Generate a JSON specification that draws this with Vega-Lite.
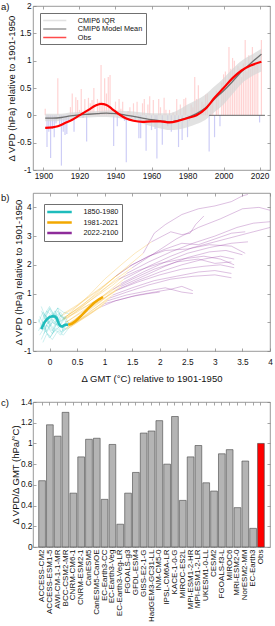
{
"$schema": "https://vega.github.io/schema/vega-lite/v6.json",
"padding": {"left": 0, "top": 0, "right": 4, "bottom": 0},
"spacing": 12,
"resolve": {"scale": {"color": "independent"}},
"config": {
  "font": "Liberation Sans",
  "view": {"stroke": "#808080", "strokeWidth": 0.8},
  "axis": {"grid": false, "domain": false, "tickColor": "#808080", "tickSize": -3, "tickWidth": 0.7, "labelFont": "Liberation Sans", "labelFontSize": 8.3, "labelColor": "#111111", "titleFont": "Liberation Sans", "titleFontSize": 9.5, "titleFontWeight": "normal", "titleColor": "#111111", "labelPadding": 5, "titlePadding": 0, "labelFlush": false, "labelOverlap": false},
  "legend": {"labelFont": "Liberation Sans", "labelFontSize": 7.3, "labelColor": "#111111", "strokeColor": "#707070", "fillColor": "white", "padding": 3, "rowPadding": 0.5, "symbolSize": 49, "labelOffset": 18.5, "symbolOffset": 7.25, "symbolStrokeWidth": 1.5},
  "title": {"fontSize": 9.5, "fontWeight": "normal", "font": "Liberation Sans", "color": "#111111"}
},
"datasets": {
  "annual": [
    {"year":1901,"v":0.12},{"year":1902,"v":-0.58},{"year":1903,"v":-0.30},{"year":1904,"v":-0.78},{"year":1905,"v":-0.25},{"year":1906,"v":-0.40},{"year":1907,"v":-0.15},{"year":1908,"v":0.68},{"year":1909,"v":-0.20},{"year":1910,"v":-0.92},
    {"year":1911,"v":-0.30},{"year":1912,"v":-0.36},{"year":1913,"v":-0.34},{"year":1914,"v":-0.10},{"year":1915,"v":0.15},{"year":1916,"v":0.40},{"year":1917,"v":-0.30},{"year":1918,"v":0.33},{"year":1919,"v":0.28},{"year":1920,"v":0.10},
    {"year":1921,"v":0.48},{"year":1922,"v":-0.05},{"year":1923,"v":0.30},{"year":1924,"v":-0.48},{"year":1925,"v":0.32},{"year":1926,"v":0.22},{"year":1927,"v":0.28},{"year":1928,"v":0.50},{"year":1929,"v":0.05},{"year":1930,"v":0.30},
    {"year":1931,"v":0.25},{"year":1932,"v":0.92},{"year":1933,"v":0.20},{"year":1934,"v":0.68},{"year":1935,"v":0.40},{"year":1936,"v":0.70},{"year":1937,"v":0.74},{"year":1938,"v":0.10},{"year":1939,"v":-0.56},{"year":1940,"v":0.25},
    {"year":1941,"v":-0.20},{"year":1942,"v":0.30},{"year":1943,"v":0.12},{"year":1944,"v":0.25},{"year":1945,"v":-0.10},{"year":1946,"v":-0.86},{"year":1947,"v":0.08},{"year":1948,"v":0.15},{"year":1949,"v":-0.05},{"year":1950,"v":0.22},
    {"year":1951,"v":-0.10},{"year":1952,"v":0.25},{"year":1953,"v":-0.42},{"year":1954,"v":-0.42},{"year":1955,"v":0.22},{"year":1956,"v":0.30},{"year":1957,"v":-0.65},{"year":1958,"v":0.20},{"year":1959,"v":0.35},{"year":1960,"v":-0.27},
    {"year":1961,"v":0.28},{"year":1962,"v":-0.25},{"year":1963,"v":-0.79},{"year":1964,"v":0.30},{"year":1965,"v":0.15},{"year":1966,"v":-0.54},{"year":1967,"v":0.32},{"year":1968,"v":0.10},{"year":1969,"v":-0.20},{"year":1970,"v":0.10},
    {"year":1971,"v":-0.30},{"year":1972,"v":0.05},{"year":1973,"v":-0.15},{"year":1974,"v":0.30},{"year":1975,"v":-0.58},{"year":1976,"v":0.20},{"year":1977,"v":-0.45},{"year":1978,"v":0.30},{"year":1979,"v":0.32},{"year":1980,"v":-0.40},
    {"year":1981,"v":-0.10},{"year":1982,"v":0.20},{"year":1983,"v":0.15},{"year":1984,"v":0.70},{"year":1985,"v":0.30},{"year":1986,"v":0.55},{"year":1987,"v":0.10},{"year":1988,"v":0.25},{"year":1989,"v":0.20},{"year":1990,"v":0.38},
    {"year":1991,"v":0.40},{"year":1992,"v":-0.66},{"year":1993,"v":0.25},{"year":1994,"v":0.30},{"year":1995,"v":-0.40},{"year":1996,"v":0.45},{"year":1997,"v":0.35},{"year":1998,"v":-0.20},{"year":1999,"v":0.60},{"year":2000,"v":0.75},
    {"year":2001,"v":0.80},{"year":2002,"v":0.55},{"year":2003,"v":1.25},{"year":2004,"v":0.85},{"year":2005,"v":1.05},{"year":2006,"v":1.00},{"year":2007,"v":0.70},{"year":2008,"v":0.90},{"year":2009,"v":0.85},{"year":2010,"v":0.70},
    {"year":2011,"v":0.95},{"year":2012,"v":1.38},{"year":2013,"v":0.80},{"year":2014,"v":1.10},{"year":2015,"v":0.85},{"year":2016,"v":1.25},{"year":2017,"v":0.95},{"year":2018,"v":0.97},{"year":2019,"v":1.00},{"year":2020,"v":-0.13},
    {"year":2021,"v":1.38}
  ],
  "cmip": [
    {"year":1901,"mean":-0.05,"lo":-0.11,"hi":0.03},{"year":1905,"mean":-0.05,"lo":-0.11,"hi":0.03},{"year":1910,"mean":-0.04,"lo":-0.10,"hi":0.03},{"year":1915,"mean":-0.01,"lo":-0.07,"hi":0.05},{"year":1920,"mean":0.01,"lo":-0.05,"hi":0.06},
    {"year":1925,"mean":0.02,"lo":-0.04,"hi":0.07},{"year":1930,"mean":0.03,"lo":-0.03,"hi":0.08},{"year":1935,"mean":0.04,"lo":-0.03,"hi":0.09},{"year":1940,"mean":0.03,"lo":-0.04,"hi":0.09},{"year":1945,"mean":0.01,"lo":-0.07,"hi":0.08},
    {"year":1950,"mean":-0.02,"lo":-0.10,"hi":0.07},{"year":1955,"mean":-0.05,"lo":-0.15,"hi":0.05},{"year":1960,"mean":-0.08,"lo":-0.20,"hi":0.04},{"year":1965,"mean":-0.10,"lo":-0.24,"hi":0.04},{"year":1970,"mean":-0.12,"lo":-0.27,"hi":0.04},
    {"year":1975,"mean":-0.09,"lo":-0.26,"hi":0.10},{"year":1980,"mean":-0.04,"lo":-0.22,"hi":0.20},{"year":1985,"mean":0.03,"lo":-0.16,"hi":0.28},{"year":1990,"mean":0.14,"lo":-0.08,"hi":0.38},{"year":1995,"mean":0.30,"lo":0.06,"hi":0.53},
    {"year":2000,"mean":0.45,"lo":0.20,"hi":0.68},{"year":2005,"mean":0.62,"lo":0.39,"hi":0.85},{"year":2010,"mean":0.80,"lo":0.58,"hi":1.00},{"year":2015,"mean":0.95,"lo":0.70,"hi":1.10},{"year":2021,"mean":1.12,"lo":0.80,"hi":1.22}
  ],
  "obs": [
    {"year":1901,"v":-0.23},{"year":1905,"v":-0.22},{"year":1908,"v":-0.20},{"year":1912,"v":-0.14},{"year":1916,"v":-0.08},{"year":1920,"v":0.00},{"year":1925,"v":0.10},{"year":1929,"v":0.18},{"year":1932,"v":0.21},{"year":1935,"v":0.19},
    {"year":1938,"v":0.12},{"year":1942,"v":0.02},{"year":1946,"v":-0.06},{"year":1950,"v":-0.10},{"year":1955,"v":-0.12},{"year":1960,"v":-0.11},{"year":1965,"v":-0.11},{"year":1970,"v":-0.13},{"year":1975,"v":-0.10},{"year":1980,"v":-0.05},
    {"year":1985,"v":0.00},{"year":1990,"v":0.12},{"year":1995,"v":0.32},{"year":2000,"v":0.50},{"year":2005,"v":0.68},{"year":2010,"v":0.82},{"year":2015,"v":0.91},{"year":2021,"v":0.98}
  ],
  "seg": [{"year":1992,"year2":2023,"v":0}],
  "spag": [
    {"m":1,"p":"1850-1980","x":-0.1,"y":0.1},{"m":1,"p":"1850-1980","x":-0.05,"y":0.4},{"m":1,"p":"1850-1980","x":0.05,"y":0.2},{"m":1,"p":"1850-1980","x":0.15,"y":0.5},{"m":1,"p":"1850-1980","x":0.25,"y":0.35},{"m":1,"p":"1850-1980","x":0.35,"y":0.3},
    {"m":2,"p":"1850-1980","x":-0.15,"y":-0.2},{"m":2,"p":"1850-1980","x":-0.1,"y":0.3},{"m":2,"p":"1850-1980","x":0.0,"y":0.0},{"m":2,"p":"1850-1980","x":0.1,"y":0.3},{"m":2,"p":"1850-1980","x":0.2,"y":0.05},{"m":2,"p":"1850-1980","x":0.3,"y":0.2},
    {"m":3,"p":"1850-1980","x":-0.12,"y":0.0},{"m":3,"p":"1850-1980","x":-0.05,"y":-0.3},{"m":3,"p":"1850-1980","x":0.05,"y":0.1},{"m":3,"p":"1850-1980","x":0.15,"y":-0.1},{"m":3,"p":"1850-1980","x":0.22,"y":0.2},{"m":3,"p":"1850-1980","x":0.3,"y":0.1},
    {"m":4,"p":"1850-1980","x":-0.18,"y":0.2},{"m":4,"p":"1850-1980","x":-0.1,"y":-0.1},{"m":4,"p":"1850-1980","x":0.0,"y":0.25},{"m":4,"p":"1850-1980","x":0.08,"y":-0.05},{"m":4,"p":"1850-1980","x":0.18,"y":0.3},{"m":4,"p":"1850-1980","x":0.25,"y":0.15},
    {"m":5,"p":"1850-1980","x":-0.1,"y":-0.4},{"m":5,"p":"1850-1980","x":-0.05,"y":-0.1},{"m":5,"p":"1850-1980","x":0.05,"y":-0.3},{"m":5,"p":"1850-1980","x":0.12,"y":0.05},{"m":5,"p":"1850-1980","x":0.2,"y":-0.2},{"m":5,"p":"1850-1980","x":0.3,"y":0.0},
    {"m":6,"p":"1850-1980","x":-0.2,"y":0.0},{"m":6,"p":"1850-1980","x":-0.12,"y":0.35},{"m":6,"p":"1850-1980","x":-0.02,"y":0.1},{"m":6,"p":"1850-1980","x":0.1,"y":0.4},{"m":6,"p":"1850-1980","x":0.18,"y":0.0},{"m":6,"p":"1850-1980","x":0.25,"y":0.1},
    {"m":7,"p":"1850-1980","x":-0.15,"y":-0.6},{"m":7,"p":"1850-1980","x":-0.08,"y":-0.3},{"m":7,"p":"1850-1980","x":0.02,"y":-0.5},{"m":7,"p":"1850-1980","x":0.12,"y":-0.2},{"m":7,"p":"1850-1980","x":0.22,"y":-0.35},{"m":7,"p":"1850-1980","x":0.3,"y":-0.1},
    {"m":8,"p":"1850-1980","x":-0.05,"y":0.2},{"m":8,"p":"1850-1980","x":0.0,"y":-0.15},{"m":8,"p":"1850-1980","x":0.1,"y":0.15},{"m":8,"p":"1850-1980","x":0.18,"y":-0.1},{"m":8,"p":"1850-1980","x":0.28,"y":0.2},{"m":8,"p":"1850-1980","x":0.35,"y":-0.05},
    {"m":9,"p":"1850-1980","x":-0.15,"y":0.4},{"m":9,"p":"1850-1980","x":-0.08,"y":0.1},{"m":9,"p":"1850-1980","x":0.0,"y":0.5},{"m":9,"p":"1850-1980","x":0.1,"y":0.2},{"m":9,"p":"1850-1980","x":0.2,"y":0.35},{"m":9,"p":"1850-1980","x":0.3,"y":0.0},
    {"m":10,"p":"1850-1980","x":-0.1,"y":-0.3},{"m":10,"p":"1850-1980","x":-0.02,"y":0.05},{"m":10,"p":"1850-1980","x":0.08,"y":-0.25},{"m":10,"p":"1850-1980","x":0.16,"y":0.1},{"m":10,"p":"1850-1980","x":0.25,"y":-0.3},{"m":10,"p":"1850-1980","x":0.35,"y":-0.15},
    {"m":11,"p":"1850-1980","x":-0.18,"y":-0.45},{"m":11,"p":"1850-1980","x":-0.1,"y":-0.2},{"m":11,"p":"1850-1980","x":0.0,"y":-0.55},{"m":11,"p":"1850-1980","x":0.1,"y":-0.25},{"m":11,"p":"1850-1980","x":0.2,"y":-0.45},{"m":11,"p":"1850-1980","x":0.3,"y":-0.2},
    {"m":12,"p":"1850-1980","x":-0.05,"y":-0.1},{"m":12,"p":"1850-1980","x":0.05,"y":-0.4},{"m":12,"p":"1850-1980","x":0.12,"y":-0.05},{"m":12,"p":"1850-1980","x":0.22,"y":-0.35},{"m":12,"p":"1850-1980","x":0.3,"y":0.05},{"m":12,"p":"1850-1980","x":0.4,"y":-0.1},
    {"m":13,"p":"1850-1980","x":-0.12,"y":-0.7},{"m":13,"p":"1850-1980","x":-0.05,"y":-0.4},{"m":13,"p":"1850-1980","x":0.05,"y":-0.6},{"m":13,"p":"1850-1980","x":0.15,"y":-0.3},{"m":13,"p":"1850-1980","x":0.25,"y":-0.45},{"m":13,"p":"1850-1980","x":0.35,"y":-0.2},
    {"m":14,"p":"1850-1980","x":-0.2,"y":0.1},{"m":14,"p":"1850-1980","x":-0.12,"y":-0.25},{"m":14,"p":"1850-1980","x":-0.02,"y":0.0},{"m":14,"p":"1850-1980","x":0.08,"y":-0.35},{"m":14,"p":"1850-1980","x":0.2,"y":-0.1},{"m":14,"p":"1850-1980","x":0.3,"y":-0.25},
    {"m":15,"p":"1850-1980","x":-0.15,"y":0.55},{"m":15,"p":"1850-1980","x":-0.08,"y":0.2},{"m":15,"p":"1850-1980","x":0.0,"y":0.45},{"m":15,"p":"1850-1980","x":0.08,"y":0.15},{"m":15,"p":"1850-1980","x":0.15,"y":0.4},{"m":15,"p":"1850-1980","x":0.2,"y":0.2},
    {"m":16,"p":"1850-1980","x":-0.08,"y":0.3},{"m":16,"p":"1850-1980","x":0.0,"y":0.55},{"m":16,"p":"1850-1980","x":0.08,"y":0.25},{"m":16,"p":"1850-1980","x":0.15,"y":0.5},{"m":16,"p":"1850-1980","x":0.2,"y":0.2},{"m":16,"p":"1850-1980","x":0.25,"y":0.3},
    {"m":17,"p":"1850-1980","x":-0.2,"y":-0.3},{"m":17,"p":"1850-1980","x":-0.12,"y":0.0},{"m":17,"p":"1850-1980","x":-0.05,"y":-0.35},{"m":17,"p":"1850-1980","x":0.05,"y":0.0},{"m":17,"p":"1850-1980","x":0.18,"y":-0.15},{"m":17,"p":"1850-1980","x":0.3,"y":0.2},
    {"m":18,"p":"1850-1980","x":-0.1,"y":0.25},{"m":18,"p":"1850-1980","x":-0.02,"y":-0.05},{"m":18,"p":"1850-1980","x":0.06,"y":0.3},{"m":18,"p":"1850-1980","x":0.14,"y":0.0},{"m":18,"p":"1850-1980","x":0.2,"y":0.25},{"m":18,"p":"1850-1980","x":0.25,"y":0.1},

    {"m":1,"p":"1981-2021","x":0.35,"y":0.3},{"m":1,"p":"1981-2021","x":0.7,"y":0.9},{"m":1,"p":"1981-2021","x":1.0,"y":1.5},{"m":1,"p":"1981-2021","x":1.3,"y":2.0},{"m":1,"p":"1981-2021","x":1.55,"y":2.4},{"m":1,"p":"1981-2021","x":1.85,"y":2.8},
    {"m":2,"p":"1981-2021","x":0.3,"y":0.2},{"m":2,"p":"1981-2021","x":0.6,"y":0.6},{"m":2,"p":"1981-2021","x":0.9,"y":1.1},{"m":2,"p":"1981-2021","x":1.2,"y":1.6},{"m":2,"p":"1981-2021","x":1.45,"y":2.0},{"m":2,"p":"1981-2021","x":1.7,"y":2.4},
    {"m":3,"p":"1981-2021","x":0.3,"y":0.1},{"m":3,"p":"1981-2021","x":0.6,"y":0.55},{"m":3,"p":"1981-2021","x":0.9,"y":1.0},{"m":3,"p":"1981-2021","x":1.2,"y":1.5},{"m":3,"p":"1981-2021","x":1.5,"y":1.9},
    {"m":4,"p":"1981-2021","x":0.25,"y":0.15},{"m":4,"p":"1981-2021","x":0.55,"y":0.5},{"m":4,"p":"1981-2021","x":0.85,"y":0.9},{"m":4,"p":"1981-2021","x":1.15,"y":1.3},{"m":4,"p":"1981-2021","x":1.4,"y":1.7},
    {"m":5,"p":"1981-2021","x":0.3,"y":0.0},{"m":5,"p":"1981-2021","x":0.6,"y":0.4},{"m":5,"p":"1981-2021","x":0.9,"y":0.8},{"m":5,"p":"1981-2021","x":1.15,"y":1.2},{"m":5,"p":"1981-2021","x":1.35,"y":1.5},
    {"m":6,"p":"1981-2021","x":0.25,"y":0.1},{"m":6,"p":"1981-2021","x":0.55,"y":0.45},{"m":6,"p":"1981-2021","x":0.85,"y":0.75},{"m":6,"p":"1981-2021","x":1.1,"y":1.05},{"m":6,"p":"1981-2021","x":1.3,"y":1.35},
    {"m":7,"p":"1981-2021","x":0.3,"y":-0.1},{"m":7,"p":"1981-2021","x":0.6,"y":0.3},{"m":7,"p":"1981-2021","x":0.9,"y":0.7},{"m":7,"p":"1981-2021","x":1.1,"y":1.0},{"m":7,"p":"1981-2021","x":1.3,"y":1.25},
    {"m":8,"p":"1981-2021","x":0.35,"y":-0.05},{"m":8,"p":"1981-2021","x":0.6,"y":0.25},{"m":8,"p":"1981-2021","x":0.85,"y":0.6},{"m":8,"p":"1981-2021","x":1.05,"y":0.9},{"m":8,"p":"1981-2021","x":1.25,"y":1.15},
    {"m":9,"p":"1981-2021","x":0.3,"y":0.0},{"m":9,"p":"1981-2021","x":0.55,"y":0.3},{"m":9,"p":"1981-2021","x":0.8,"y":0.6},{"m":9,"p":"1981-2021","x":1.0,"y":0.85},{"m":9,"p":"1981-2021","x":1.2,"y":1.1},
    {"m":10,"p":"1981-2021","x":0.35,"y":-0.15},{"m":10,"p":"1981-2021","x":0.6,"y":0.15},{"m":10,"p":"1981-2021","x":0.8,"y":0.45},{"m":10,"p":"1981-2021","x":1.0,"y":0.75},{"m":10,"p":"1981-2021","x":1.15,"y":0.95},
    {"m":11,"p":"1981-2021","x":0.3,"y":-0.2},{"m":11,"p":"1981-2021","x":0.55,"y":0.1},{"m":11,"p":"1981-2021","x":0.75,"y":0.4},{"m":11,"p":"1981-2021","x":0.95,"y":0.65},{"m":11,"p":"1981-2021","x":1.1,"y":0.85},
    {"m":12,"p":"1981-2021","x":0.4,"y":-0.1},{"m":12,"p":"1981-2021","x":0.6,"y":0.15},{"m":12,"p":"1981-2021","x":0.8,"y":0.4},{"m":12,"p":"1981-2021","x":0.95,"y":0.6},{"m":12,"p":"1981-2021","x":1.05,"y":0.75},
    {"m":13,"p":"1981-2021","x":0.35,"y":-0.2},{"m":13,"p":"1981-2021","x":0.55,"y":0.05},{"m":13,"p":"1981-2021","x":0.75,"y":0.3},{"m":13,"p":"1981-2021","x":0.9,"y":0.5},{"m":13,"p":"1981-2021","x":1.0,"y":0.65},
    {"m":14,"p":"1981-2021","x":0.3,"y":-0.25},{"m":14,"p":"1981-2021","x":0.5,"y":0.0},{"m":14,"p":"1981-2021","x":0.7,"y":0.25},{"m":14,"p":"1981-2021","x":0.85,"y":0.45},{"m":14,"p":"1981-2021","x":0.95,"y":0.55},
    {"m":15,"p":"1981-2021","x":0.2,"y":0.2},{"m":15,"p":"1981-2021","x":0.45,"y":0.5},{"m":15,"p":"1981-2021","x":0.7,"y":0.85},{"m":15,"p":"1981-2021","x":0.95,"y":1.2},{"m":15,"p":"1981-2021","x":1.2,"y":1.6},{"m":15,"p":"1981-2021","x":1.45,"y":1.95},
    {"m":16,"p":"1981-2021","x":0.25,"y":0.3},{"m":16,"p":"1981-2021","x":0.5,"y":0.6},{"m":16,"p":"1981-2021","x":0.75,"y":0.95},{"m":16,"p":"1981-2021","x":1.0,"y":1.3},{"m":16,"p":"1981-2021","x":1.2,"y":1.6},
    {"m":17,"p":"1981-2021","x":0.3,"y":0.2},{"m":17,"p":"1981-2021","x":0.55,"y":0.55},{"m":17,"p":"1981-2021","x":0.8,"y":0.9},{"m":17,"p":"1981-2021","x":1.05,"y":1.25},{"m":17,"p":"1981-2021","x":1.25,"y":1.5},
    {"m":18,"p":"1981-2021","x":0.25,"y":0.1},{"m":18,"p":"1981-2021","x":0.5,"y":0.35},{"m":18,"p":"1981-2021","x":0.75,"y":0.65},{"m":18,"p":"1981-2021","x":0.95,"y":0.9},{"m":18,"p":"1981-2021","x":1.15,"y":1.15},

    {"m":1,"p":"2022-2100","x":1.85,"y":2.8},{"m":1,"p":"2022-2100","x":2.05,"y":3.0},{"m":1,"p":"2022-2100","x":2.2,"y":3.15},{"m":1,"p":"2022-2100","x":2.4,"y":3.05},{"m":1,"p":"2022-2100","x":2.55,"y":3.1},{"m":1,"p":"2022-2100","x":2.65,"y":3.4},{"m":1,"p":"2022-2100","x":2.8,"y":3.7},
    {"m":2,"p":"2022-2100","x":1.7,"y":2.4},{"m":2,"p":"2022-2100","x":1.9,"y":3.1},{"m":2,"p":"2022-2100","x":2.1,"y":3.4},{"m":2,"p":"2022-2100","x":2.4,"y":3.75},{"m":2,"p":"2022-2100","x":2.7,"y":3.95},{"m":2,"p":"2022-2100","x":3.0,"y":4.05},{"m":2,"p":"2022-2100","x":3.3,"y":4.2},{"m":2,"p":"2022-2100","x":3.5,"y":4.4},{"m":2,"p":"2022-2100","x":3.6,"y":4.45},
    {"m":3,"p":"2022-2100","x":1.5,"y":1.9},{"m":3,"p":"2022-2100","x":1.9,"y":2.4},{"m":3,"p":"2022-2100","x":2.3,"y":2.9},{"m":3,"p":"2022-2100","x":2.7,"y":3.3},{"m":3,"p":"2022-2100","x":3.1,"y":3.6},{"m":3,"p":"2022-2100","x":3.5,"y":3.95},{"m":3,"p":"2022-2100","x":3.8,"y":4.0},{"m":3,"p":"2022-2100","x":4.0,"y":3.9},
    {"m":4,"p":"2022-2100","x":1.4,"y":1.7},{"m":4,"p":"2022-2100","x":1.8,"y":2.1},{"m":4,"p":"2022-2100","x":2.2,"y":2.45},{"m":4,"p":"2022-2100","x":2.6,"y":2.75},{"m":4,"p":"2022-2100","x":3.0,"y":3.0},{"m":4,"p":"2022-2100","x":3.4,"y":3.3},{"m":4,"p":"2022-2100","x":3.7,"y":3.45},{"m":4,"p":"2022-2100","x":4.0,"y":3.5},
    {"m":5,"p":"2022-2100","x":1.35,"y":1.5},{"m":5,"p":"2022-2100","x":1.8,"y":1.95},{"m":5,"p":"2022-2100","x":2.2,"y":2.3},{"m":5,"p":"2022-2100","x":2.6,"y":2.6},{"m":5,"p":"2022-2100","x":3.0,"y":2.8},{"m":5,"p":"2022-2100","x":3.4,"y":3.0},{"m":5,"p":"2022-2100","x":3.7,"y":3.15},{"m":5,"p":"2022-2100","x":4.0,"y":3.3},
    {"m":6,"p":"2022-2100","x":1.3,"y":1.35},{"m":6,"p":"2022-2100","x":1.7,"y":1.75},{"m":6,"p":"2022-2100","x":2.1,"y":2.1},{"m":6,"p":"2022-2100","x":2.5,"y":2.4},{"m":6,"p":"2022-2100","x":2.9,"y":2.6},{"m":6,"p":"2022-2100","x":3.3,"y":2.75},{"m":6,"p":"2022-2100","x":3.6,"y":2.8},
    {"m":7,"p":"2022-2100","x":1.3,"y":1.25},{"m":7,"p":"2022-2100","x":1.7,"y":1.6},{"m":7,"p":"2022-2100","x":2.1,"y":1.95},{"m":7,"p":"2022-2100","x":2.5,"y":2.25},{"m":7,"p":"2022-2100","x":2.9,"y":2.45},{"m":7,"p":"2022-2100","x":3.2,"y":2.5},{"m":7,"p":"2022-2100","x":3.5,"y":2.35},
    {"m":8,"p":"2022-2100","x":1.25,"y":1.15},{"m":8,"p":"2022-2100","x":1.6,"y":1.45},{"m":8,"p":"2022-2100","x":2.0,"y":1.75},{"m":8,"p":"2022-2100","x":2.4,"y":2.0},{"m":8,"p":"2022-2100","x":2.8,"y":2.2},{"m":8,"p":"2022-2100","x":3.1,"y":2.3},{"m":8,"p":"2022-2100","x":3.35,"y":2.2},
    {"m":9,"p":"2022-2100","x":1.2,"y":1.1},{"m":9,"p":"2022-2100","x":1.6,"y":1.4},{"m":9,"p":"2022-2100","x":2.0,"y":1.65},{"m":9,"p":"2022-2100","x":2.4,"y":1.85},{"m":9,"p":"2022-2100","x":2.8,"y":1.95},{"m":9,"p":"2022-2100","x":3.1,"y":2.0},{"m":9,"p":"2022-2100","x":3.35,"y":1.9},
    {"m":10,"p":"2022-2100","x":1.15,"y":0.95},{"m":10,"p":"2022-2100","x":1.5,"y":1.2},{"m":10,"p":"2022-2100","x":1.9,"y":1.45},{"m":10,"p":"2022-2100","x":2.3,"y":1.6},{"m":10,"p":"2022-2100","x":2.7,"y":1.75},{"m":10,"p":"2022-2100","x":3.0,"y":1.8},{"m":10,"p":"2022-2100","x":3.3,"y":1.7},
    {"m":11,"p":"2022-2100","x":1.1,"y":0.85},{"m":11,"p":"2022-2100","x":1.4,"y":1.05},{"m":11,"p":"2022-2100","x":1.8,"y":1.3},{"m":11,"p":"2022-2100","x":2.2,"y":1.5},{"m":11,"p":"2022-2100","x":2.6,"y":1.6},{"m":11,"p":"2022-2100","x":3.0,"y":1.65},{"m":11,"p":"2022-2100","x":3.3,"y":1.55},
    {"m":12,"p":"2022-2100","x":1.05,"y":0.75},{"m":12,"p":"2022-2100","x":1.4,"y":0.95},{"m":12,"p":"2022-2100","x":1.8,"y":1.1},{"m":12,"p":"2022-2100","x":2.1,"y":1.2},{"m":12,"p":"2022-2100","x":2.4,"y":1.05},{"m":12,"p":"2022-2100","x":2.6,"y":1.0},
    {"m":13,"p":"2022-2100","x":1.0,"y":0.65},{"m":13,"p":"2022-2100","x":1.3,"y":0.8},{"m":13,"p":"2022-2100","x":1.6,"y":0.95},{"m":13,"p":"2022-2100","x":1.9,"y":1.05},{"m":13,"p":"2022-2100","x":2.2,"y":1.15},{"m":13,"p":"2022-2100","x":2.4,"y":1.25},{"m":13,"p":"2022-2100","x":2.6,"y":1.1},
    {"m":14,"p":"2022-2100","x":0.95,"y":0.55},{"m":14,"p":"2022-2100","x":1.2,"y":0.75},{"m":14,"p":"2022-2100","x":1.5,"y":0.9},{"m":14,"p":"2022-2100","x":1.8,"y":1.0},{"m":14,"p":"2022-2100","x":2.0,"y":1.05},
    {"m":15,"p":"2022-2100","x":1.45,"y":1.95},{"m":15,"p":"2022-2100","x":1.8,"y":2.3},{"m":15,"p":"2022-2100","x":2.1,"y":2.55},{"m":15,"p":"2022-2100","x":2.4,"y":2.75},{"m":15,"p":"2022-2100","x":2.7,"y":2.7},{"m":15,"p":"2022-2100","x":3.0,"y":2.9},{"m":15,"p":"2022-2100","x":3.3,"y":3.1},{"m":15,"p":"2022-2100","x":3.55,"y":3.15},
    {"m":16,"p":"2022-2100","x":1.2,"y":1.6},{"m":16,"p":"2022-2100","x":1.5,"y":2.0},{"m":16,"p":"2022-2100","x":1.8,"y":2.3},{"m":16,"p":"2022-2100","x":2.1,"y":2.5},{"m":16,"p":"2022-2100","x":2.5,"y":2.55},{"m":16,"p":"2022-2100","x":2.9,"y":2.7},{"m":16,"p":"2022-2100","x":3.3,"y":2.65},{"m":16,"p":"2022-2100","x":3.55,"y":2.4},
    {"m":17,"p":"2022-2100","x":1.25,"y":1.5},{"m":17,"p":"2022-2100","x":1.6,"y":1.8},{"m":17,"p":"2022-2100","x":2.0,"y":2.05},{"m":17,"p":"2022-2100","x":2.4,"y":2.2},{"m":17,"p":"2022-2100","x":2.8,"y":2.3},{"m":17,"p":"2022-2100","x":3.1,"y":2.2},{"m":17,"p":"2022-2100","x":3.35,"y":2.0},
    {"m":18,"p":"2022-2100","x":1.15,"y":1.15},{"m":18,"p":"2022-2100","x":1.5,"y":1.5},{"m":18,"p":"2022-2100","x":1.9,"y":1.85},{"m":18,"p":"2022-2100","x":2.3,"y":2.1},{"m":18,"p":"2022-2100","x":2.7,"y":2.2},{"m":18,"p":"2022-2100","x":3.0,"y":2.05},{"m":18,"p":"2022-2100","x":3.3,"y":2.1}
  ],
  "obsb": [
    {"p":"1850-1980","x":-0.15,"y":-0.24},{"p":"1850-1980","x":-0.12,"y":-0.12},{"p":"1850-1980","x":-0.09,"y":0.0},{"p":"1850-1980","x":-0.05,"y":0.1},{"p":"1850-1980","x":0.0,"y":0.18},{"p":"1850-1980","x":0.05,"y":0.21},{"p":"1850-1980","x":0.1,"y":0.2},{"p":"1850-1980","x":0.13,"y":0.14},{"p":"1850-1980","x":0.15,"y":0.04},{"p":"1850-1980","x":0.17,"y":-0.06},{"p":"1850-1980","x":0.2,"y":-0.13},{"p":"1850-1980","x":0.23,"y":-0.15},{"p":"1850-1980","x":0.26,"y":-0.11},{"p":"1850-1980","x":0.3,"y":-0.08},{"p":"1850-1980","x":0.34,"y":-0.09},
    {"p":"1981-2021","x":0.34,"y":-0.09},{"p":"1981-2021","x":0.4,"y":-0.05},{"p":"1981-2021","x":0.47,"y":0.04},{"p":"1981-2021","x":0.56,"y":0.2},{"p":"1981-2021","x":0.68,"y":0.44},{"p":"1981-2021","x":0.8,"y":0.66},{"p":"1981-2021","x":0.9,"y":0.8},{"p":"1981-2021","x":0.97,"y":0.88}
  ],
  "ratio": [
    {"name":"ACCESS-CM2","r":0.64},{"name":"ACCESS-ESM1-5","r":1.18},{"name":"AWI-CM-1-1-MR","r":1.07},{"name":"BCC-CSM2-MR","r":1.30},{"name":"CNRM-CM6-1","r":0.52},{"name":"CNRM-ESM2-1","r":0.87},{"name":"CanESM5","r":1.04},{"name":"CanESM5-CanOE","r":1.05},{"name":"EC-Earth3-CC","r":0.46},{"name":"EC-Earth3-Veg","r":0.99},
    {"name":"EC-Earth3-Veg-LR","r":0.22},{"name":"FGOALS-g3","r":0.52},{"name":"GFDL-ESM4","r":0.72},{"name":"GISS-E2-1-G","r":1.10},{"name":"HadGEM3-GC31-LL","r":1.12},{"name":"INM-CM5-0","r":1.22},{"name":"IPSL-CM6A-LR","r":0.80},{"name":"KACE-1-0-G","r":1.26},{"name":"MIROC-ES2L","r":0.45},{"name":"MPI-ESM1-2-HR","r":0.87},
    {"name":"MPI-ESM1-2-LR","r":0.98},{"name":"UKESM1-0-LL","r":0.62},{"name":"CESM2","r":0.54},{"name":"FGOALS-f3-L","r":0.90},{"name":"MIROC6","r":0.94},{"name":"MRI-ESM2-0","r":0.38},{"name":"NorESM2-MM","r":0.83},{"name":"EC-Earth3","r":0.18},{"name":"Obs","r":1.00}
  ]
},
"vconcat": [
  {
    "width": 237, "height": 164,
    "title": {"text": "a)", "anchor": "start", "frame": "group", "dx": -32, "offset": -10},
    "resolve": {"axis": {"x": "independent", "y": "independent"}},
    "layer": [
      {"data": {"name": "annual"}, "mark": {"type": "bar", "width": 1.2},
       "encoding": {
         "x": {"field": "year", "type": "quantitative", "scale": {"domain": [1897, 2023], "nice": false, "zero": false}, "axis": {"title": null, "values": [1900,1920,1940,1960,1980,2000,2020], "labelExpr": "'' + datum.value", "labelPadding": 4}},
         "y": {"field": "v", "type": "quantitative", "scale": {"domain": [-1, 2], "nice": false}, "axis": {"title": "Δ VPD (hPa) relative to 1901-1950", "values": [-1,-0.5,0,0.5,1,1.5,2], "labelExpr": "'' + datum.value"}},
         "color": {"condition": {"test": "datum.v > 0", "value": "#ffd3d3"}, "value": "#cdcdf6"}
       }},
      {"data": {"name": "cmip"}, "mark": {"type": "area", "opacity": 0.7, "interpolate": "monotone"},
       "encoding": {
         "x": {"field": "year", "type": "quantitative", "axis": null},
         "y": {"field": "lo", "type": "quantitative", "axis": null},
         "y2": {"field": "hi"},
         "color": {"datum": "CMIP6 IQR", "type": "nominal",
           "scale": {"domain": ["CMIP6 IQR", "CMIP6 Model Mean", "Obs"], "range": ["#d6d6d6", "#707070", "#ff0000"]},
           "legend": {"title": null, "orient": "top-left", "offset": 7, "symbolType": "M-3.3,0H3.3",
             "encode": {"symbols": {"update": {
               "strokeWidth": {"signal": "datum.value === 'CMIP6 IQR' ? 6 : datum.value === 'Obs' ? 2 : 1.5"},
               "stroke": {"signal": "datum.value === 'CMIP6 IQR' ? '#e2e2e2' : datum.value === 'Obs' ? '#ff0000' : '#707070'"},
               "fill": {"value": "transparent"}, "opacity": {"value": 1}}}}}}
       }},
      {"data": {"name": "cmip"}, "mark": {"type": "line", "strokeWidth": 1.3, "interpolate": "monotone"},
       "encoding": {
         "x": {"field": "year", "type": "quantitative", "axis": null},
         "y": {"field": "mean", "type": "quantitative", "axis": null},
         "color": {"datum": "CMIP6 Model Mean", "type": "nominal"}
       }},
      {"data": {"name": "obs"}, "mark": {"type": "line", "strokeWidth": 2.2, "interpolate": "monotone"},
       "encoding": {
         "x": {"field": "year", "type": "quantitative", "axis": null},
         "y": {"field": "v", "type": "quantitative", "axis": null},
         "color": {"datum": "Obs", "type": "nominal"}
       }},
      {"data": {"name": "seg"}, "mark": {"type": "rule", "color": "#5a5a5a", "strokeWidth": 0.9},
       "encoding": {
         "x": {"field": "year", "type": "quantitative", "axis": {"orient": "top", "labels": false, "title": null, "values": [1900,1920,1940,1960,1980,2000,2020]}},
         "x2": {"field": "year2"},
         "y": {"field": "v", "type": "quantitative", "axis": {"orient": "right", "labels": false, "title": null, "values": [-1,-0.5,0,0.5,1,1.5,2]}}
       }}
    ]
  },
  {
    "width": 237, "height": 158,
    "title": {"text": "b)", "anchor": "start", "frame": "group", "dx": -32, "offset": -10},
    "resolve": {"axis": {"x": "independent", "y": "independent"}},
    "layer": [
      {"data": {"name": "spag"}, "mark": {"type": "line", "strokeWidth": 0.75},
       "encoding": {
         "x": {"field": "x", "type": "quantitative", "scale": {"domain": [-0.3, 4], "nice": false, "zero": false}, "axis": {"title": "Δ GMT (°C) relative to 1901-1950", "values": [0,0.5,1,1.5,2,2.5,3,3.5,4], "labelExpr": "'' + datum.value", "labelPadding": 9, "titlePadding": 8}},
         "y": {"field": "y", "type": "quantitative", "scale": {"domain": [-1, 4.5], "nice": false, "zero": false}, "axis": {"title": "Δ VPD (hPa) relative to 1901-1950", "values": [-1,0,1,2,3,4], "labelExpr": "'' + datum.value"}},
         "color": {"field": "p", "type": "nominal",
           "scale": {"domain": ["1850-1980", "1981-2021", "2022-2100"], "range": ["#1ebcbc", "#f2a800", "#8e2c9a"]},
           "legend": {"title": null, "orient": "top-left", "offset": 11, "symbolType": "M-3.5,0H3.5", "symbolStrokeWidth": 2.5, "symbolOffset": 7.5, "labelOffset": 19,
             "encode": {"symbols": {"update": {"strokeWidth": {"value": 2.5}, "opacity": {"value": 1}}}}}},
         "opacity": {"field": "p", "type": "nominal", "scale": {"domain": ["1850-1980", "1981-2021", "2022-2100"], "range": [0.3, 0.4, 0.45]}, "legend": null},
         "detail": {"field": "m", "type": "nominal"},
         "order": {"value": null}
       }},
      {"data": {"name": "obsb"}, "mark": {"type": "line", "strokeWidth": 2.6},
       "encoding": {
         "x": {"field": "x", "type": "quantitative", "axis": {"orient": "top", "labels": false, "title": null, "values": [0,0.5,1,1.5,2,2.5,3,3.5,4]}},
         "y": {"field": "y", "type": "quantitative", "axis": {"orient": "right", "labels": false, "title": null, "values": [-1,0,1,2,3,4]}},
         "color": {"field": "p", "type": "nominal", "legend": null},
         "order": {"value": null}
       }}
    ]
  },
  {
    "width": 237, "height": 145,
    "title": {"text": "c)", "anchor": "start", "frame": "group", "dx": -32, "offset": -10},
    "resolve": {"axis": {"x": "independent", "y": "independent"}},
    "layer": [
      {"data": {"name": "ratio"}, "mark": {"type": "bar", "stroke": "#444444", "strokeWidth": 0.6},
       "encoding": {
         "x": {"field": "name", "type": "nominal", "sort": null, "scale": {"paddingInner": 0.14, "paddingOuter": 0.73}, "axis": {"title": null, "labelAngle": -90, "labelFontSize": 8, "labelPadding": 5}},
         "y": {"field": "r", "type": "quantitative", "scale": {"domain": [0, 1.4], "nice": false}, "axis": {"title": "Δ VPD/Δ GMT (hPa/°C)", "values": [0,0.2,0.4,0.6,0.8,1,1.2,1.4], "labelExpr": "'' + datum.value", "labelPadding": 4}},
         "color": {"condition": {"test": "datum.name === 'Obs'", "value": "#ff0000"}, "value": "#b4b4b4"}
       }},
      {"data": {"name": "ratio"}, "mark": {"type": "bar", "opacity": 0},
       "encoding": {
         "x": {"field": "name", "type": "nominal", "sort": null, "axis": {"orient": "top", "labels": false, "title": null}},
         "y": {"field": "r", "type": "quantitative", "axis": {"orient": "right", "labels": false, "title": null, "values": [0,0.2,0.4,0.6,0.8,1,1.2,1.4]}}
       }}
    ]
  }
]
}
